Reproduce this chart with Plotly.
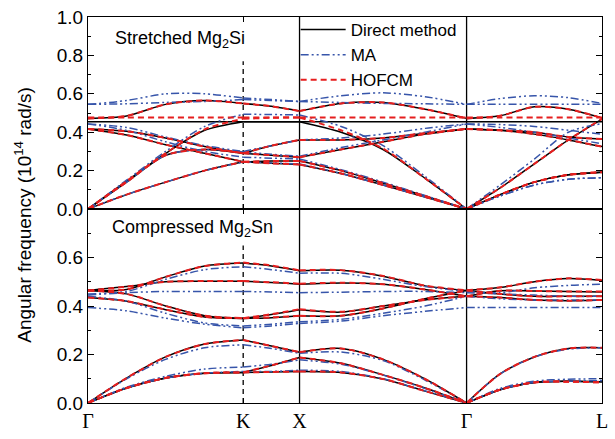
import plotly.graph_objects as go

# ---------------- k-path positions and labels ----------------
k_pos = [0, 39, 78.5, 118, 157, 185.5, 214, 256, 298.5, 341, 383, 417, 451.5, 486, 520]
sym_pos = [0, 157, 214, 383, 520]
sym_labels = ["Γ", "K", "X", "Γ", "L"]

# ---------------- Stretched Mg2Si (top panel) ----------------
top_direct = [
    [0, .075, .14, .20, .246, .238, .232, .185, .125, .063, 0, .075, .14, .178, .192],
    [0, .14, .28, .31, .29, .28, .27, .31, .35, .39, .417, .41, .39, .36, .325],
    [0, .145, .29, .41, .455, .455, .455, .40, .31, .16, 0, .11, .235, .36, .468],
    [.417, .385, .335, .29, .246, .25, .25, .20, .135, .068, 0, .075, .14, .178, .192],
    [.417, .405, .37, .325, .29, .33, .36, .36, .37, .395, .417, .41, .40, .375, .365],
    [.455, .455, .455, .455, .455, .455, .455, .455, .455, .455, .455, .455, .455, .455, .455],
    [.472, .485, .545, .565, .55, .535, .51, .55, .555, .52, .472, .486, .532, .52, .474],
]
top_ma = [
    [0, .075, .14, .20, .245, .24, .235, .185, .125, .063, 0, .068, .125, .155, .163],
    [0, .14, .28, .31, .297, .285, .275, .32, .36, .40, .443, .44, .43, .41, .39],
    [0, .15, .30, .43, .494, .492, .49, .43, .33, .17, 0, .125, .26, .40, .445],
    [.443, .41, .35, .30, .27, .265, .26, .205, .14, .07, 0, .068, .125, .155, .163],
    [.443, .425, .375, .33, .30, .33, .36, .37, .39, .42, .443, .425, .40, .37, .34],
    [.545, .548, .555, .56, .57, .565, .56, .555, .55, .548, .545, .545, .545, .545, .545],
    [.545, .565, .60, .60, .578, .57, .56, .59, .605, .585, .545, .575, .59, .58, .55],
]
top_hofcm = [
    [0, .075, .14, .20, .246, .238, .232, .185, .125, .063, 0, .075, .14, .178, .192],
    [0, .14, .28, .31, .29, .28, .27, .31, .35, .39, .417, .41, .39, .36, .325],
    [0, .145, .29, .415, .47, .475, .477, .41, .315, .16, 0, .11, .235, .36, .47],
    [.417, .385, .335, .29, .246, .25, .25, .20, .135, .068, 0, .075, .14, .178, .192],
    [.417, .405, .37, .325, .29, .33, .36, .36, .37, .395, .417, .41, .40, .375, .365],
    [.477, .477, .477, .477, .477, .477, .477, .477, .477, .477, .477, .477, .477, .477, .477],
    [.472, .485, .545, .565, .55, .535, .51, .55, .555, .52, .472, .486, .532, .52, .474],
]

# ---------------- Compressed Mg2Sn (bottom panel) ----------------
bot_direct = [
    [.464, .468, .52, .565, .577, .565, .545, .547, .523, .483, .464, .476, .50, .513, .505],
    [.464, .48, .50, .502, .502, .497, .49, .495, .49, .468, .44, .463, .462, .46, .458],
    [.435, .42, .385, .355, .349, .365, .385, .375, .40, .425, .44, .435, .425, .422, .425],
    [.464, .45, .40, .36, .349, .352, .36, .36, .39, .43, .464, .45, .44, .44, .44],
    [0, .103, .19, .243, .26, .235, .209, .225, .18, .099, 0, .12, .19, .225, .228],
    [0, .062, .103, .123, .126, .155, .188, .164, .116, .062, 0, .055, .085, .09, .088],
    [0, .062, .103, .123, .126, .128, .13, .126, .099, .049, 0, .055, .085, .09, .088],
]
bot_ma = [
    [.45, .46, .51, .55, .562, .55, .535, .535, .51, .48, .46, .455, .475, .485, .49],
    [.445, .455, .46, .46, .46, .458, .455, .457, .46, .46, .455, .45, .445, .44, .44],
    [.394, .38, .35, .325, .31, .318, .328, .338, .36, .378, .394, .394, .394, .394, .394],
    [.44, .42, .37, .33, .318, .325, .335, .345, .37, .40, .44, .43, .425, .425, .425],
    [0, .10, .18, .228, .24, .225, .205, .21, .175, .095, 0, .12, .19, .222, .228],
    [0, .065, .11, .14, .148, .16, .178, .16, .115, .06, 0, .06, .09, .098, .10],
    [0, .062, .103, .123, .13, .13, .135, .13, .10, .05, 0, .055, .085, .09, .092],
]
bot_hofcm = [
    [.464, .468, .52, .565, .579, .567, .547, .548, .524, .484, .465, .477, .50, .514, .507],
    [.464, .48, .50, .503, .503, .498, .492, .496, .49, .468, .44, .463, .462, .46, .46],
    [.435, .42, .385, .355, .35, .366, .387, .376, .40, .425, .44, .435, .425, .422, .425],
    [.464, .45, .40, .36, .35, .353, .36, .36, .39, .43, .464, .45, .44, .44, .44],
    [0, .103, .19, .243, .26, .235, .21, .225, .18, .099, 0, .12, .19, .225, .228],
    [0, .062, .103, .123, .126, .155, .188, .164, .116, .062, 0, .055, .085, .088, .085],
    [0, .062, .103, .123, .126, .128, .13, .126, .099, .049, 0, .055, .085, .088, .085],
]

method_names = ["Direct method", "MA", "HOFCM"]

# ---------------- styles ----------------
styles = {
    "Direct method": dict(color="black", width=1.5, dash="solid"),
    "MA": dict(color="rgb(55,85,170)", width=1.5, dash="8px,3px,2px,3px,2px,3px"),
    "HOFCM": dict(color="rgb(230,30,30)", width=2, dash="6px,4px"),
}

segs = [(0, 4), (4, 6), (6, 10), (10, 14)]


def broken(vals):
    xs, ys = [], []
    for a, b in segs:
        xs += k_pos[a:b + 1] + [None]
        ys += vals[a:b + 1] + [None]
    return xs, ys


fig = go.Figure()
data_sets = {
    "Direct method": (top_direct, bot_direct),
    "MA": (top_ma, bot_ma),
    "HOFCM": (top_hofcm, bot_hofcm),
}
for name in method_names:
    top_b, bot_b = data_sets[name]
    first = True
    for bands, xa, ya in ((top_b, "x", "y"), (bot_b, "x2", "y2")):
        for band in bands:
            xs, ys = broken(band)
            fig.add_trace(go.Scatter(
                x=xs, y=ys, mode="lines", name=name, legendgroup=name,
                showlegend=first, xaxis=xa, yaxis=ya,
                line=dict(shape="spline", smoothing=0.8, **styles[name]),
                hoverinfo="skip",
            ))
            first = False

split = (409 - 212) / 392
axis_common = dict(showline=True, linecolor="black", linewidth=1.3, mirror="ticks",
                   ticks="inside", tickcolor="black", tickwidth=1.2, showgrid=False,
                   zeroline=False)

fig.update_layout(
    width=615, height=439,
    margin=dict(l=88, r=7, t=17, b=30),
    paper_bgcolor="white", plot_bgcolor="white",
    font=dict(family="Liberation Sans, Arial, sans-serif", color="black", size=18),
    xaxis=dict(domain=[0, 1], range=[0, 520], anchor="y", tickvals=sym_pos,
               showticklabels=False, ticklen=5, **axis_common),
    xaxis2=dict(domain=[0, 1], range=[0, 520], anchor="y2", tickvals=sym_pos,
                ticktext=sym_labels, ticklen=5, matches="x",
                tickfont=dict(family="Liberation Serif, Times New Roman, serif", size=20),
                **axis_common),
    yaxis=dict(domain=[split, 1], range=[0, 1], anchor="x", tickvals=[0, .2, .4, .6, .8, 1.0],
               tickformat=".1f", ticklen=6, tickfont=dict(size=19),
               minor=dict(dtick=0.1, tick0=0, ticks="inside", ticklen=3, tickcolor="black"),
               **axis_common),
    yaxis2=dict(domain=[0, split], range=[0, 0.8], anchor="x2", tickvals=[0, .2, .4, .6],
                tickformat=".1f", ticklen=6, tickfont=dict(size=19),
                minor=dict(dtick=0.1, tick0=0, ticks="inside", ticklen=3, tickcolor="black"),
                **axis_common),
    legend=dict(x=0.404, y=1.0128, xanchor="left", yanchor="top", bgcolor="rgba(0,0,0,0)",
                font=dict(size=17), itemwidth=45, tracegroupgap=0),
    showlegend=True,
)

# high-symmetry vertical lines
for xv in (214, 383):
    fig.add_shape(type="line", xref="x", yref="paper", x0=xv, x1=xv, y0=0, y1=1,
                  line=dict(color="black", width=1.3), layer="below")
fig.add_shape(type="line", xref="x", yref="y", x0=157, x1=157, y0=0, y1=0.77,
              line=dict(color="black", width=1.3, dash="5px,4px"), layer="below")
fig.add_shape(type="line", xref="x2", yref="y2", x0=157, x1=157, y0=0, y1=0.65,
              line=dict(color="black", width=1.3, dash="5px,4px"), layer="below")

fig.add_annotation(text="Stretched Mg<sub>2</sub>Si", xref="paper", yref="paper",
                   x=0.048, y=0.941, xanchor="left", yanchor="middle", showarrow=False,
                   font=dict(size=18))
fig.add_annotation(text="Compressed Mg<sub>2</sub>Sn", xref="paper", yref="paper",
                   x=0.042, y=0.4515, xanchor="left", yanchor="middle", showarrow=False,
                   font=dict(size=18))
fig.add_annotation(text="Angular frequency (10<sup>14</sup> rad/s)", xref="paper", yref="paper",
                   x=-0.127, y=0.487, xanchor="center", yanchor="middle", textangle=-90,
                   showarrow=False, font=dict(size=19))

fig.write_html("out.html")
